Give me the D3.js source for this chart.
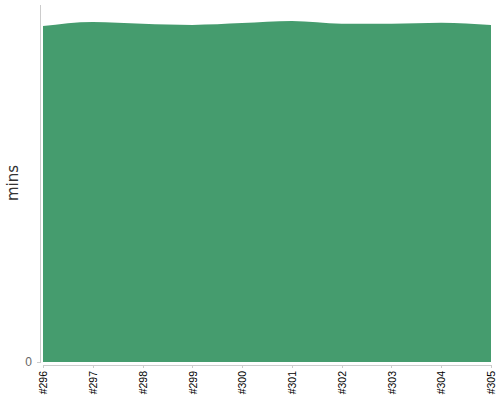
<!DOCTYPE html>
<html>
<head>
<meta charset="utf-8">
<script src="https://cdn.jsdelivr.net/npm/d3@7"></script>
<style>
  body { margin: 0; background: #fff; }
  .axis path, .axis line { stroke: #ccc; shape-rendering: crispEdges; }
  .axis text { font-family: "Liberation Sans", Arial, sans-serif; }
</style>
</head>
<body>
<script>
// builds shown on the x axis
var builds = ["#296", "#297", "#298", "#299", "#300", "#301", "#302", "#303", "#304", "#305"];
// duration in minutes per build
var durations = [56.3, 57.0, 56.7, 56.5, 56.8, 57.15, 56.7, 56.7, 56.87, 56.5];
var yTicks = [0];

var width = 500, height = 400;
var margin = { top: 4, right: 9, bottom: 38, left: 43 };
var plotW = width - margin.left - margin.right,
  plotH = height - margin.top - margin.bottom;

var svg = d3.select("body").append("svg")
  .attr("width", width)
  .attr("height", height);

var x = d3.scalePoint().domain(builds).range([margin.left, margin.left + plotW]);
var y = d3.scaleLinear().domain([0, 60]).range([margin.top + plotH, margin.top]);

var area = d3.area()
  .x(function (d, i) { return x(builds[i]); })
  .y0(y(0))
  .y1(function (d) { return y(d); })
  .curve(d3.curveMonotoneX);

svg.append("path")
  .datum(durations)
  .attr("d", area)
  .style("fill", "#459c6e");

// y axis, offset a bit to the left of the plot
svg.append("g")
  .attr("class", "axis y")
  .attr("transform", "translate(" + (margin.left - 3) + ",0)")
  .call(d3.axisLeft(y).tickValues(yTicks).tickSize(3).tickSizeOuter(0))
  .call(function (g) {
    g.selectAll("text").style("font-size", "12px").style("fill", "#666").attr("x", -8);
  });

// x axis, offset a bit below the plot
svg.append("g")
  .attr("class", "axis x")
  .attr("transform", "translate(0," + (margin.top + plotH + 3) + ")")
  .call(d3.axisBottom(x).tickSize(3).tickSizeOuter(0))
  .call(function (g) {
    g.selectAll("text")
      .style("font-size", "10.5px")
      .style("fill", "#000")
      .style("text-anchor", "end")
      .attr("transform", "rotate(-90)")
      .attr("x", -6)
      .attr("y", 0)
      .attr("dy", "0.35em");
  });

svg.append("text")
  .attr("transform", "translate(18," + (margin.top + plotH / 2) + ") rotate(-90)")
  .style("text-anchor", "middle")
  .style("font-family", "'DejaVu Sans', sans-serif")
  .style("font-size", "15px")
  .style("fill", "#333")
  .text("mins");
</script>
</body>
</html>
